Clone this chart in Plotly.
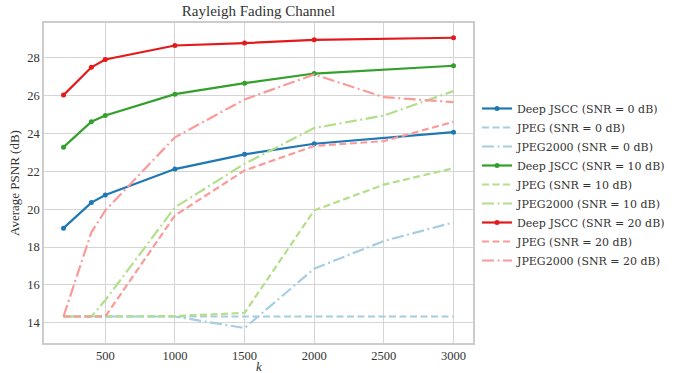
import plotly.graph_objects as go

k_deep = [200, 400, 500, 1000, 1500, 2000, 3000]
k_jpeg = [200, 400, 500, 1000, 1500, 2000, 2500, 3000]

deep_0 = [19.0, 20.35, 20.75, 22.12, 22.9, 23.46, 24.07]
deep_10 = [23.28, 24.62, 24.95, 26.08, 26.66, 27.17, 27.58]
deep_20 = [26.03, 27.5, 27.91, 28.65, 28.78, 28.95, 29.06]

jpeg_0 = [14.33, 14.33, 14.33, 14.33, 14.33, 14.33, 14.33, 14.33]
j2k_0 = [14.33, 14.33, 14.33, 14.33, 13.72, 16.86, 18.32, 19.3]
jpeg_10 = [14.33, 14.33, 14.33, 14.35, 14.52, 19.94, 21.3, 22.17]
j2k_10 = [14.33, 14.33, 15.19, 20.1, 22.4, 24.29, 24.95, 26.24]
jpeg_20 = [14.33, 14.33, 14.33, 19.67, 22.05, 23.34, 23.6, 24.62]
j2k_20 = [14.33, 18.78, 19.93, 23.8, 25.8, 27.12, 25.92, 25.66]

x_ticks = [500, 1000, 1500, 2000, 2500, 3000]
y_ticks = [14, 16, 18, 20, 22, 24, 26, 28]

DARK_BLUE, LIGHT_BLUE = "#1f78b4", "#a6cee3"
DARK_GREEN, LIGHT_GREEN = "#33a02c", "#b2df8a"
DARK_RED, LIGHT_RED = "#e31a1c", "#fb9a99"
DASH = "7px,3.5px"
DASHDOT = "12px,3.5px,2px,3.5px"

series = [
    ("Deep JSCC (SNR = 0 dB)", k_deep, deep_0, DARK_BLUE, "solid", True),
    ("JPEG (SNR = 0 dB)", k_jpeg, jpeg_0, LIGHT_BLUE, DASH, False),
    ("JPEG2000 (SNR = 0 dB)", k_jpeg, j2k_0, LIGHT_BLUE, DASHDOT, False),
    ("Deep JSCC (SNR = 10 dB)", k_deep, deep_10, DARK_GREEN, "solid", True),
    ("JPEG (SNR = 10 dB)", k_jpeg, jpeg_10, LIGHT_GREEN, DASH, False),
    ("JPEG2000 (SNR = 10 dB)", k_jpeg, j2k_10, LIGHT_GREEN, DASHDOT, False),
    ("Deep JSCC (SNR = 20 dB)", k_deep, deep_20, DARK_RED, "solid", True),
    ("JPEG (SNR = 20 dB)", k_jpeg, jpeg_20, LIGHT_RED, DASH, False),
    ("JPEG2000 (SNR = 20 dB)", k_jpeg, j2k_20, LIGHT_RED, DASHDOT, False),
]

fig = go.Figure()
for name, xs, ys, color, dash, markers in series:
    fig.add_trace(go.Scatter(
        x=xs, y=ys, name=name,
        mode="lines+markers" if markers else "lines",
        line=dict(color=color, width=2.2, dash=dash),
        marker=dict(size=5, color=color),
    ))

FONT = "Liberation Serif, DejaVu Serif, serif"
LEGEND_FONT = "DejaVu Serif, serif"
fig.update_layout(
    width=679, height=373,
    margin=dict(l=44, r=206, t=23, b=30, autoexpand=False),
    paper_bgcolor="white", plot_bgcolor="white",
    font=dict(family=FONT, size=12, color="#333333"),
    title=dict(text="Rayleigh Fading Channel", x=(44 + 473) / 2 / 679, xanchor="center",
               y=1 - 11 / 373, yanchor="middle", font=dict(size=15, color="#333333")),
    showlegend=True,
    legend=dict(xref="container", yref="container", x=477 / 679, y=1 - 94 / 373,
                xanchor="left", yanchor="top",
                borderwidth=0, bgcolor="rgba(0,0,0,0)",
                font=dict(family=LEGEND_FONT, size=11, color="#333333"), tracegroupgap=0),
    annotations=[
        dict(text="Average PSNR (dB)", xref="paper", yref="paper", x=0, y=0.5,
             xshift=-30, textangle=-90, showarrow=False, xanchor="center", yanchor="middle",
             font=dict(size=13, color="#333333")),
        dict(text="<i>k</i>", xref="paper", yref="paper", x=0.5, y=0,
             yshift=-23, showarrow=False, xanchor="center", yanchor="middle",
             font=dict(size=13, color="#333333")),
    ],
)
fig.update_xaxes(
    range=[60, 3140], tickvals=x_ticks, ticktext=[str(v) for v in x_ticks],
    showgrid=True, gridcolor="#d5d5d5", gridwidth=1,
    showline=True, linecolor="#cccccc", linewidth=1.5, mirror=True,
    zeroline=False, ticks="", tickfont=dict(size=12.5), automargin=False,
)
fig.update_yaxes(
    range=[12.93, 29.84], tickvals=y_ticks, ticktext=[str(v) for v in y_ticks],
    showgrid=True, gridcolor="#d5d5d5", gridwidth=1,
    showline=True, linecolor="#cccccc", linewidth=1.5, mirror=True,
    zeroline=False, ticks="", tickfont=dict(size=12.5), automargin=False,
)

fig.write_html("out.html", config={"displayModeBar": False},
               post_script="document.body.style.margin='0';")
